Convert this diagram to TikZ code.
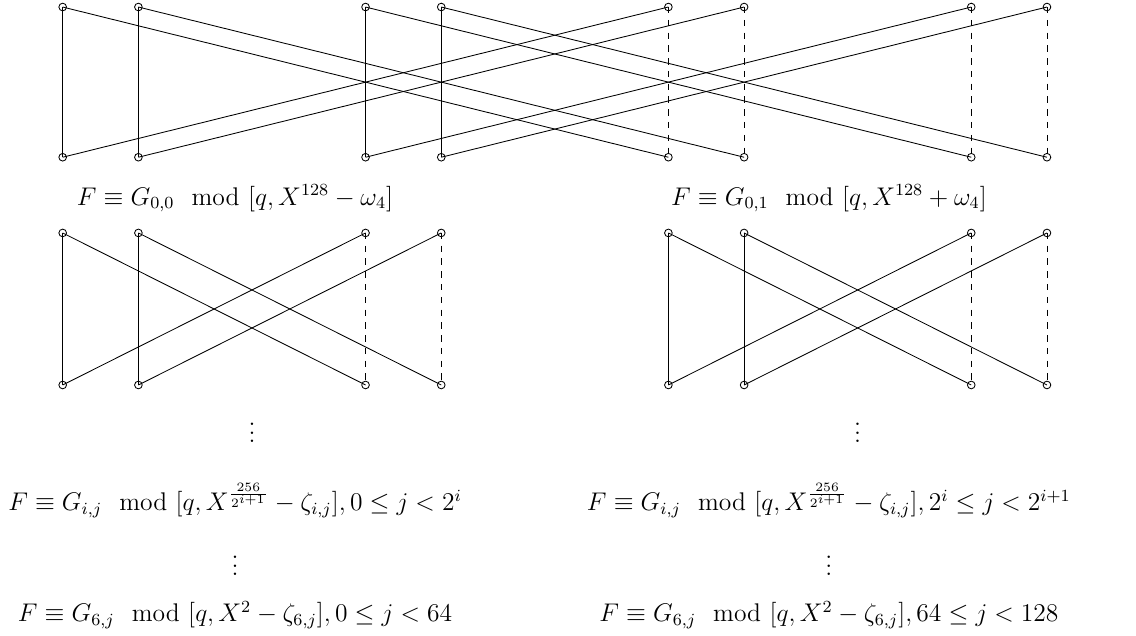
\documentclass[12pt,tikz,border=0pt]{standalone}
\usepackage{amsmath}
\usepackage{amssymb}
\usepackage{tikz}

\begin{document}
\begin{tikzpicture}[
    pt/.style={draw, circle, inner sep=0pt, minimum size=3.6pt},
    lbl/.style={anchor=base, inner sep=0pt},
  ]
  \useasboundingbox (-1.035,0.116) rectangle (17.72,-10.37);

  % layer 0: X^256 - omega_2 split into two halves
  \foreach \k/\x in {1/0, 2/1.25, 3/5, 4/6.25, 5/10, 6/11.25, 7/15, 8/16.25} {
    \node[pt] (t\k) at (\x,0) {};
    \node[pt] (b\k) at (\x,-2.48) {};
  }
  \foreach \k in {1,...,4} \draw (t\k.center) -- (b\k.center);
  \foreach \k in {5,...,8} \draw[dashed] (t\k.center) -- (b\k.center);
  \foreach \a/\b in {1/5, 2/6, 3/7, 4/8, 5/1, 6/2, 7/3, 8/4} \draw (t\a.center) -- (b\b.center);

  \node[lbl] (m00) at (2.845,-3.27) {$F \equiv G_{0,0} \mod [q, X^{128} - \omega_4]$};
  \node[lbl] (m01) at (12.65,-3.27) {$F \equiv G_{0,1} \mod [q, X^{128} + \omega_4]$};

  % layer 1, one butterfly block per half
  \foreach \g/\o in {l/0, r/10} {
    \foreach \k/\x in {1/0, 2/1.25, 3/5, 4/6.25} {
      \node[pt] (\g t\k) at (\o+\x,-3.73) {};
      \node[pt] (\g b\k) at (\o+\x,-6.24) {};
    }
    \foreach \k in {1,2} \draw (\g t\k.center) -- (\g b\k.center);
    \foreach \k in {3,4} \draw[dashed] (\g t\k.center) -- (\g b\k.center);
    \foreach \a/\b in {1/3, 2/4, 3/1, 4/2} \draw (\g t\a.center) -- (\g b\b.center);
  }

  \node[lbl] (dl) at (3.125,-7.19) {$\vdots$};
  \node[lbl] (dr) at (13.125,-7.19) {$\vdots$};

  \node[lbl] (mil) at (2.845,-8.31)
    {$F \equiv G_{i,j} \mod [q, X^{\frac{256}{2^{i+1}}} - \zeta_{i,j}], 0 \leq j < 2^i$};
  \node[lbl] (mir) at (12.65,-8.31)
    {$F \equiv G_{i,j} \mod [q, X^{\frac{256}{2^{i+1}}} - \zeta_{i,j}], 2^i \leq j < 2^{i+1}$};

  \node[lbl] (el) at (2.845,-9.39) {$\vdots$};
  \node[lbl] (er) at (12.65,-9.39) {$\vdots$};

  \node[lbl] (m6l) at (2.845,-10.15) {$F \equiv G_{6,j} \mod [q, X^2 - \zeta_{6,j}], 0 \leq j < 64$};
  \node[lbl] (m6r) at (12.65,-10.15) {$F \equiv G_{6,j} \mod [q, X^2 - \zeta_{6,j}], 64 \leq j < 128$};
\end{tikzpicture}
\end{document}
